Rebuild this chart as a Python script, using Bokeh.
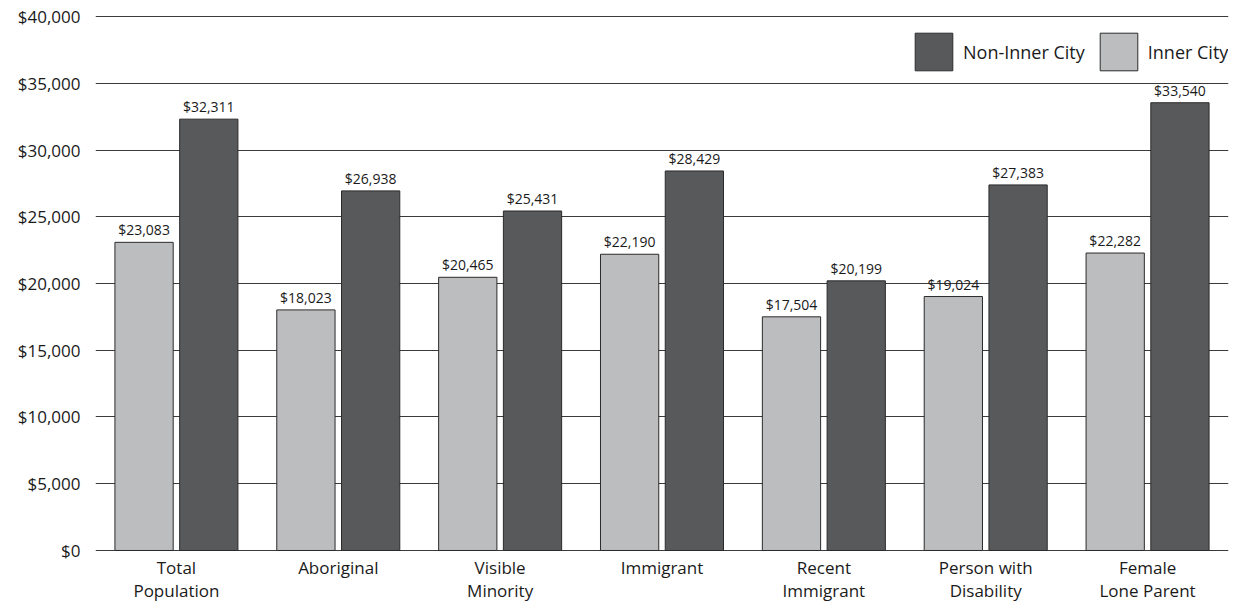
from bokeh.plotting import figure
from bokeh.models import (ColumnDataSource, FactorRange, Range1d, Legend, LegendItem,
                          NumeralTickFormatter, FixedTicker)
from bokeh.transform import dodge
from bokeh.core.properties import value
from bokeh.embed import file_html
from bokeh.resources import INLINE

# Average income by population group
categories = [
    "Total\nPopulation",
    "Aboriginal",
    "Visible\nMinority",
    "Immigrant",
    "Recent\nImmigrant",
    "Person with\nDisability",
    "Female\nLone Parent",
]
inner_city = [23083, 18023, 20465, 22190, 17504, 19024, 22282]
non_inner_city = [32311, 26938, 25431, 28429, 20199, 27383, 33540]
y_ticks = [0, 5000, 10000, 15000, 20000, 25000, 30000, 35000, 40000]

FONT = "Open Sans"
LIGHT = "#bcbdbf"
DARK = "#58595b"
EDGE = "#2b2b2b"
TEXT = "#1a1a1a"

src = ColumnDataSource(dict(
    cat=categories,
    inner=inner_city,
    outer=non_inner_city,
    inner_lbl=["${:,}".format(v) for v in inner_city],
    outer_lbl=["${:,}".format(v) for v in non_inner_city],
))

p = figure(
    width=1239, height=604,
    x_range=FactorRange(*categories, range_padding=0),
    y_range=Range1d(-75, 40075),
    output_backend="svg", toolbar_location=None,
    min_border_left=95, min_border_right=11,
    min_border_top=15, min_border_bottom=52,
)
p.outline_line_color = None
p.background_fill_color = "white"
p.border_fill_color = "white"

bar_w = 0.36
r_inner = p.vbar(x=dodge("cat", -0.2, range=p.x_range), top="inner", width=bar_w,
                 source=src, fill_color=LIGHT, line_color=EDGE, line_width=1)
r_outer = p.vbar(x=dodge("cat", 0.2, range=p.x_range), top="outer", width=bar_w,
                 source=src, fill_color=DARK, line_color=EDGE, line_width=1)

lbl_kw = dict(source=src, text_align="center", text_baseline="bottom", y_offset=-3,
              text_font=value(FONT), text_font_size="14px", text_color=TEXT)
p.text(x=dodge("cat", -0.2, range=p.x_range), y="inner", text="inner_lbl", **lbl_kw)
p.text(x=dodge("cat", 0.2, range=p.x_range), y="outer", text="outer_lbl", **lbl_kw)

# grid
p.xgrid.grid_line_color = None
p.ygrid.grid_line_color = "#3a3a3a"
p.ygrid.grid_line_width = 1
p.ygrid.ticker = FixedTicker(ticks=y_ticks)

# y axis
p.yaxis.ticker = FixedTicker(ticks=y_ticks)
p.yaxis.formatter = NumeralTickFormatter(format="$0,0")
p.yaxis.axis_line_color = None
p.yaxis.major_tick_line_color = None
p.yaxis.minor_tick_line_color = None
p.yaxis.major_tick_out = 0
p.yaxis.major_tick_in = 0
p.yaxis.minor_tick_out = 0
p.yaxis.major_label_standoff = 15
p.yaxis.major_label_text_font = FONT
p.yaxis.major_label_text_font_size = "17px"
p.yaxis.major_label_text_color = TEXT

# x axis: category names only
p.xaxis.axis_line_color = None
p.xaxis.major_tick_line_color = None
p.xaxis.minor_tick_line_color = None
p.xaxis.major_tick_out = 0
p.xaxis.major_tick_in = 0
p.xaxis.minor_tick_out = 0
p.xaxis.major_label_standoff = 4
p.xaxis.major_label_text_font = FONT
p.xaxis.major_label_text_font_size = "17px"
p.xaxis.major_label_text_color = TEXT
p.xaxis.major_label_text_line_height = 1.0

legend = Legend(
    items=[LegendItem(label="Non-Inner City", renderers=[r_outer]),
           LegendItem(label="Inner City", renderers=[r_inner])],
    orientation="horizontal",
    location=(815, 476),
    glyph_width=47, glyph_height=47,
    label_text_font=FONT, label_text_font_size="18px", label_text_color=TEXT,
    label_standoff=6, spacing=10, padding=0, margin=0,
    border_line_color=None, background_fill_alpha=0,
)
p.add_layout(legend)

open("out.html", "w").write(file_html(p, INLINE))
